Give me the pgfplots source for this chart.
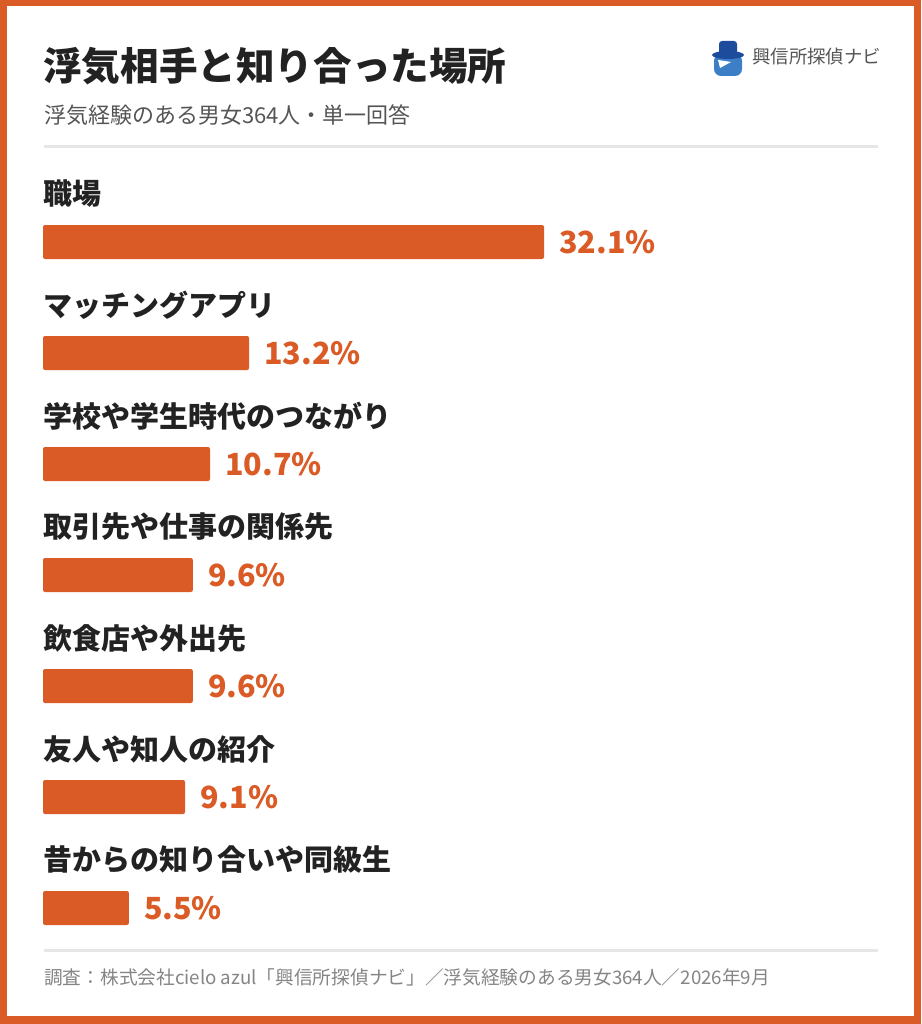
\documentclass[border=0pt]{standalone}
\usepackage{pgfplots}
\pgfplotsset{compat=1.18}
\usepackage{pgfplotstable}
\usepackage{fontspec}
\setmainfont{Noto Sans CJK JP}
\definecolor{brand}{HTML}{DA5B25}
\definecolor{txt}{HTML}{222222}
\definecolor{sub}{HTML}{555555}
\definecolor{foot}{HTML}{858585}
\definecolor{rulec}{HTML}{E6E6E6}
\definecolor{hat}{HTML}{1E4C9C}
\definecolor{face}{HTML}{3C7FC6}
\pgfplotstableread{
y pos val lbl name
0 0 32.1 32.1 職場
1 0 13.2 13.2 マッチングアプリ
2 0 10.7 10.7 学校や学生時代のつながり
3 0 9.6 9.6 取引先や仕事の関係先
4 0 9.6 9.6 飲食店や外出先
5 0 9.1 9.1 友人や知人の紹介
6 0 5.5 5.5 昔からの知り合いや同級生
}\data
\begin{document}
\begin{tikzpicture}[x=1pt,y=1pt]
\fill[brand] (0,0) rectangle (921,-1024);
\fill[white] (7,-6) rectangle (914,-1016);
\node[anchor=west, inner sep=0, font=\fontsize{38.6}{38.6}\selectfont\bfseries, text=txt] at (43,-66) {浮気相手と知り合った場所};
\node[anchor=west, inner sep=0, font=\fontsize{22}{22}\selectfont, text=sub] at (44,-115) {浮気経験のある男女364人・単一回答};
\draw[rulec, line width=3pt] (44,-147) -- (878,-147);
% logo
\fill[face, rounded corners=7pt] (714,-54) rectangle (742,-76);
\fill[white] (718,-60) -- (731,-62) -- (720,-68) -- cycle;
\fill[hat, rounded corners=3pt] (719,-55) rectangle (737,-41);
\fill[hat] (728,-55) ellipse (16 and 4);
\node[anchor=west, inner sep=0, font=\fontsize{18.4}{18.4}\selectfont, text=sub] at (752,-57) {興信所探偵ナビ};
\begin{axis}[at={(43pt,-242pt)}, anchor=north west, scale only axis,
  width=501pt, height=666pt, xmin=0, xmax=32.1, ymin=0, ymax=6,
  y dir=reverse, hide axis, clip=false]
\addplot[xbar, bar width=34pt, bar shift=0pt, fill=brand, draw=none, rounded corners=2pt,
  point meta=explicit symbolic, nodes near coords={\pgfplotspointmeta\%},
  nodes near coords style={anchor=west, xshift=15pt, text=brand, inner sep=0,
    font=\fontsize{30.5}{30.5}\selectfont\bfseries}]
  table[x=val, y=y, meta=lbl] {\data};
\addplot[draw=none, mark=none, point meta=explicit symbolic, nodes near coords={\pgfplotspointmeta},
  nodes near coords style={anchor=west, yshift=48pt, text=txt, inner sep=0,
    font=\fontsize{29}{29}\selectfont\bfseries}]
  table[x=pos, y=y, meta=name] {\data};
\end{axis}
\draw[rulec, line width=3pt] (44,-950) -- (878,-950);
\node[anchor=west, inner sep=0, font=\fontsize{18.7}{18.7}\selectfont, text=foot] at (44,-977) {調査：株式会社cielo azul「興信所探偵ナビ」／浮気経験のある男女364人／2026年9月};
\end{tikzpicture}
\end{document}
